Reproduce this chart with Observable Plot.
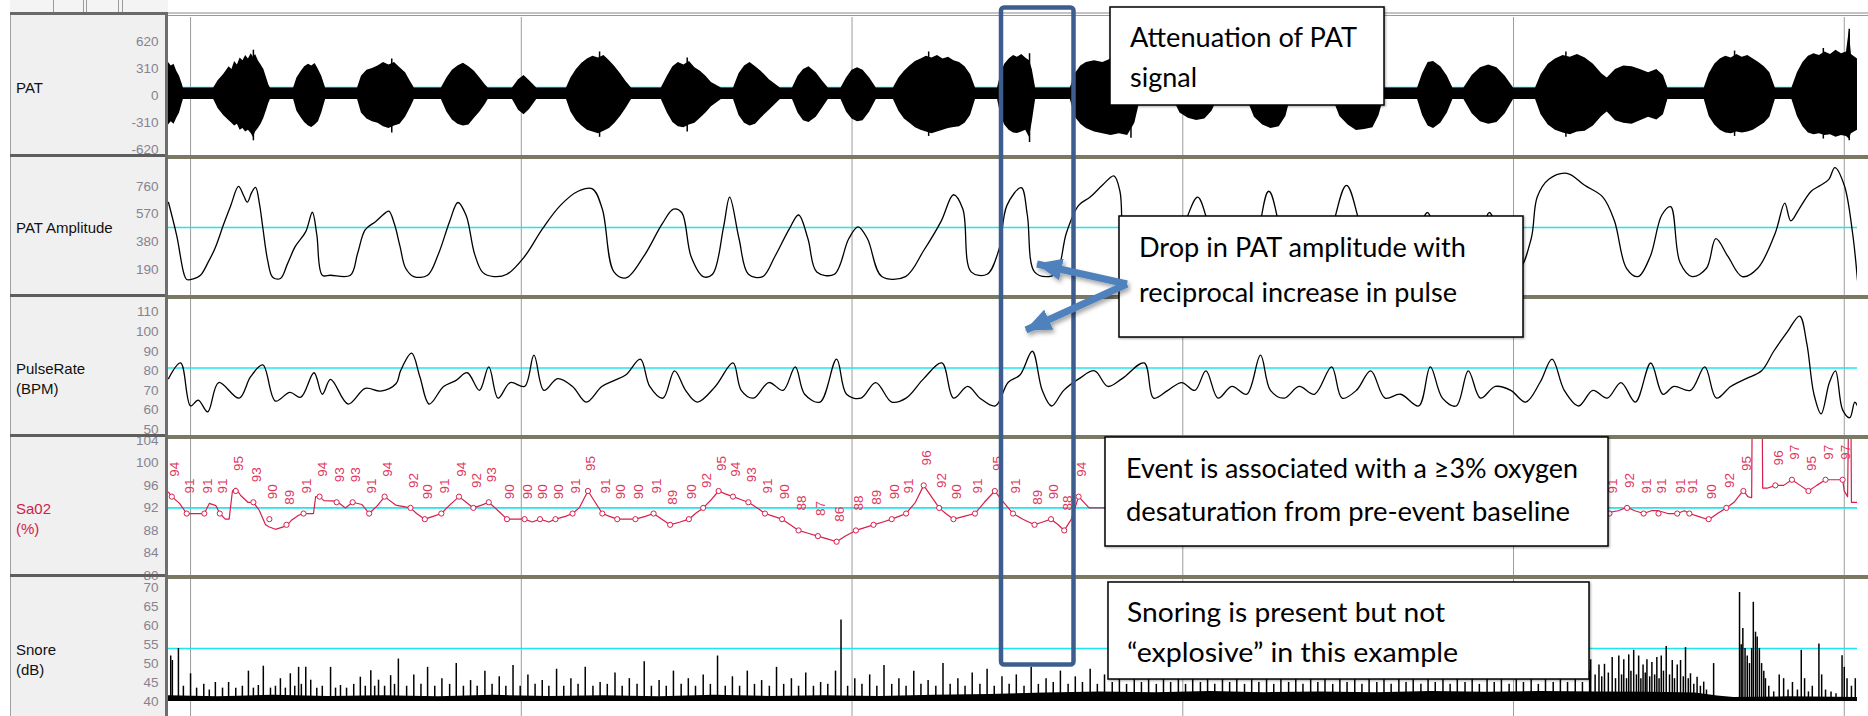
<!DOCTYPE html>
<html>
<head>
<meta charset="utf-8">
<script src="https://cdn.jsdelivr.net/npm/d3@7"></script>
<script src="https://cdn.jsdelivr.net/npm/@observablehq/plot@0.6"></script>
<style>
  html, body { margin: 0; padding: 0; background: #ffffff; }
  #root { position: relative; width: 1868px; height: 716px; overflow: hidden; background: #ffffff; }
  .blk { position: absolute; }
  .lbl { position: absolute; left: 16px; font-family: "Liberation Sans", Arial, sans-serif; font-size: 15px; color: #111; line-height: 18px; white-space: nowrap; }
</style>
</head>
<body>
<div id="root"></div>
<script>
// ---- time axis (seconds) ----
const xDomain = [-4, 302.4];
const gridT = [0, 60, 120, 180, 240, 300];

// ---- PAT signal envelope (upper / lower edge of the raw trace) ----
const patT = [-4, -3.5, -3, -2.5, -2, -1.5, -1.3, 4.2,
  5, 6, 7, 7.5, 8, 8.5, 9, 9.5, 10, 10.5, 11, 11.4, 11.8, 12.3, 12.8, 13.3, 13.8, 14.2, 14.5, 18.7,
  19.3, 20, 20.7, 21.4, 22, 22.6, 23.2, 23.8, 24.5, 30.3,
  31, 32, 33, 34, 35, 36, 37, 38, 39, 40, 40.6, 45.5,
  46.5, 47.5, 48.5, 49.5, 50.5, 51.5, 52.5, 53.5, 54, 58.4,
  59.5, 60.5, 61.5, 62.8, 68.2,
  69, 70, 71, 72, 73, 74, 75, 76, 77, 78, 79, 80, 85.4,
  86.5, 87.5, 88.5, 89.5, 90.5, 91.5, 92.5, 93.5, 94.5, 96.3, 98.5,
  99.5, 100.5, 101.5, 102.5, 103.5, 105, 107, 109.2,
  110.2, 111.2, 112.2, 113.5, 114.6, 115.7, 118,
  119, 120, 121, 122, 123.2, 124.4, 127.5,
  128.5, 129.5, 130.5, 131.5, 132.5, 133.5, 134.5, 135.5, 136.5, 137.5, 138.5, 139.5, 140.5, 141.5, 142.4, 146.4,
  147, 147.7, 148.5, 149.3, 150, 150.8, 151.5, 152.2, 152.7, 153.3, 159.6,
  160.5, 161.5, 162.5, 164, 165.5, 167, 168.5, 170, 171.3, 172.3, 178.3,
  179.5, 181, 182.5, 184, 185.3, 186.3, 191.7,
  193, 194.5, 196, 197.5, 198.7, 199.5, 207.3,
  208.5, 210, 211.5, 213, 214.5, 215.6, 216.4, 222.6,
  223.5, 224.5, 225.5, 226.8, 228, 229, 231,
  232.5, 234, 235.5, 237, 238.5, 240, 244,
  245, 246.3, 247.6, 249, 250.3, 251.6, 253, 254.5, 256, 257, 258.5, 260, 261.5, 263, 264.5, 266, 267.2, 268, 274.6,
  275.5, 276.5, 277.5, 278.5, 279.5, 280.5, 281.5, 282.5, 283.5, 284.5, 285.5, 286.5, 287.5, 290.5,
  291.5, 292.5, 293.5, 294.5, 295.5, 296.5, 297.5, 298.5, 299.5, 300.4, 300.9, 301.3, 302.4];
const patHi = [380, 340, 360, 280, 220, 130, 85, 85,
  170, 240, 330, 300, 390, 350, 430, 400, 460, 420, 480, 440, 470, 400, 350, 300, 200, 120, 85, 85,
  200, 270, 330, 360, 340, 367, 300, 220, 85, 85,
  220, 290, 310, 340, 380, 350, 380, 320, 260, 150, 85, 85,
  200, 290, 340, 370, 330, 280, 200, 120, 85, 85,
  180, 230, 170, 85, 85,
  200, 300, 370, 420, 450, 430, 460, 400, 330, 250, 160, 85, 85,
  220, 330, 380, 350, 390, 320, 280, 220, 150, 85, 85,
  250, 340, 380, 330, 280, 180, 85, 85,
  220, 300, 330, 260, 170, 85, 85,
  200, 290, 320, 290, 200, 85, 85,
  200, 280, 340, 390, 420, 450, 430, 460, 420, 440, 400, 380, 330, 240, 85, 85,
  250, 360, 420, 460, 440, 470, 430, 400, 300, 85, 85,
  250, 340, 380, 400, 380, 420, 400, 380, 300, 85, 85,
  220, 290, 320, 300, 200, 85, 85,
  260, 350, 380, 360, 250, 85, 85,
  250, 350, 400, 380, 360, 250, 85, 85,
  250, 379, 390, 330, 220, 85, 85,
  230, 320, 350, 320, 220, 85, 85,
  240, 360, 420, 460, 440, 470, 430, 360, 250, 200, 300, 340, 330, 300, 260, 300, 230, 85, 85,
  250, 360, 420, 450, 430, 470, 440, 460, 420, 380, 330, 260, 85, 85,
  260, 380, 450, 480, 460, 500, 470, 520, 480, 500, 740, 470, 420];
const patLo = [-340, -300, -330, -260, -200, -90, -45, -45,
  -150, -230, -290, -320, -350, -330, -400, -380, -420, -400, -436, -482, -420, -380, -330, -260, -170, -90, -45, -45,
  -180, -250, -310, -350, -367, -340, -300, -200, -45, -45,
  -200, -270, -300, -320, -360, -380, -350, -330, -250, -130, -45, -45,
  -190, -280, -330, -350, -340, -260, -190, -100, -45, -45,
  -170, -220, -160, -45, -45,
  -190, -290, -350, -400, -420, -440, -410, -380, -320, -240, -150, -45, -45,
  -200, -310, -360, -370, -340, -320, -260, -200, -130, -45, -45,
  -230, -320, -350, -330, -260, -170, -45, -45,
  -200, -290, -310, -250, -150, -45, -45,
  -190, -270, -300, -290, -190, -45, -45,
  -180, -270, -320, -370, -400, -420, -440, -420, -400, -380, -367, -360, -320, -230, -45, -45,
  -230, -340, -400, -430, -436, -420, -400, -482, -300, -45, -45,
  -250, -330, -380, -420, -440, -460, -440, -460, -320, -45, -45,
  -200, -260, -287, -270, -180, -45, -45,
  -250, -340, -379, -360, -240, -45, -45,
  -240, -340, -402, -390, -370, -230, -45, -45,
  -230, -350, -380, -320, -200, -45, -45,
  -210, -300, -330, -310, -210, -45, -45,
  -220, -340, -400, -430, -450, -420, -410, -350, -240, -190, -290, -320, -330, -290, -250, -280, -220, -45, -45,
  -240, -340, -400, -430, -440, -420, -430, -420, -400, -360, -320, -250, -45, -45,
  -240, -360, -430, -450, -440, -460, -450, -480, -460, -470, -500, -440, -400];
// isolated needles that stick out of the bursts
const patNeedleT = [11.4, 36.5, 74.2, 90.1, 133.9, 152.2, 170.6, 249.5, 280.1, 296.2, 300.9];
const patNeedleHi = [520, 420, 500, 430, 500, 480, 430, 500, 510, 540, 760];
const patNeedleLo = [-520, -430, -480, -420, -470, -540, -490, -480, -470, -500, -520];
const patTicks = [620, 310, 0, -310, -620];
const patRef = 92;

// ---- PAT amplitude ----
const ampT = [-4, -2.5, -1.2, -0.7, 0.5, 1.8, 3.2, 4.5, 6, 7.3, 8.7, 9.6, 10.3, 11.1, 11.8, 12.5, 13.1, 14, 14.9, 16.3, 17.6, 19, 20.9, 22.1, 22.9, 23.9, 25.4, 29, 30.3, 31.7, 33.6, 35.4, 36, 37, 38, 39, 40.5, 43, 45, 47, 48.5, 50, 51.5, 53, 55, 57.4, 60.6, 63.8, 67.1, 70.3, 72.9, 74.7, 76.8, 79.0, 82.2, 85.5, 87.6, 89.1, 90.8, 93.0, 94.7, 96.7, 97.8, 99.5, 101.2, 103.8, 106.0, 108.6, 110.3, 112.0, 113.6, 116.8, 119.4, 121.1, 122.8, 125.4, 129.7, 133.0, 136.2, 138.4, 140.1, 141.6, 144.5, 146.6, 148.1, 150.7, 151.8, 153.1, 155.7, 157.2, 158.9, 161.1, 163.2, 165.4, 167.5, 168.6, 169.7, 173, 177.3, 180.5, 182.7, 184.8, 188.1, 192.4, 195.6, 198.9, 203.2, 206.5, 209.7, 212.9, 216.2, 220.5, 224.4, 227, 230.2, 233.5, 235.6, 238.2, 241, 243.2, 244.3, 246.4, 249.7, 252.9, 256.2, 258.3, 260.5, 262.6, 264.8, 266.9, 268.5, 270.2, 272.4, 275, 276.7, 278.9, 281.5, 284.3, 287.5, 289.2, 290.3, 291.8, 294, 295.7, 297.2, 298.3, 300, 301.5, 302.4];
const ampV = [650, 420, 160, 121, 125, 150, 240, 341, 500, 630, 760, 700, 652, 720, 753, 640, 480, 250, 137, 128, 230, 348, 450, 583, 430, 150, 150, 150, 300, 463, 520, 580, 590, 500, 348, 200, 141, 150, 300, 520, 650, 560, 300, 170, 141, 157, 279, 467, 630, 727, 744, 605, 173, 132, 279, 499, 605, 581, 279, 141, 157, 483, 687, 401, 157, 141, 279, 467, 564, 401, 173, 157, 401, 483, 401, 141, 141, 320, 524, 703, 605, 173, 157, 320, 630, 752, 564, 173, 141, 173, 442, 630, 687, 768, 833, 727, 279, 141, 238, 524, 687, 483, 141, 279, 727, 320, 141, 401, 768, 401, 141, 198, 581, 198, 141, 279, 581, 320, 198, 401, 687, 809, 850, 768, 687, 524, 198, 141, 279, 564, 621, 238, 141, 198, 401, 279, 141, 198, 442, 646, 524, 605, 727, 768, 809, 890, 768, 442, 116];
const ampTicks = [760, 570, 380, 190];
const ampRef = 478;

// ---- pulse rate ----
const pulseT = [-4, -1.8, 0, 1.4, 3.1, 5.1, 8.8, 10.9, 13.1, 15.4, 18, 20, 22.4, 23.9, 25.4, 28.6, 31.7, 34.5, 37.3, 38.1, 40.1, 41.6, 43.3, 45.9, 48.1, 50.2, 52.4, 54.1, 55.8, 58, 60.6, 62.3, 64.1, 66.6, 69.3, 71.8, 74.6, 76.8, 79, 81.6, 83.3, 85.7, 87.8, 89.8, 91.9, 95.2, 98.4, 99.9, 102.1, 104.9, 107.5, 109.7, 111.4, 114.2, 117.2, 119, 121.6, 124.3, 127.2, 129.8, 133, 136.3, 138.4, 141, 143.2, 146, 148.3, 150.5, 152.7, 154.5, 156.2, 158.4, 161.2, 164, 166.4, 169, 173, 174.7, 177.3, 179.8, 182.2, 184.2, 186.4, 188.9, 191.6, 194.1, 195.9, 198.4, 201.1, 203.9, 207, 208.9, 211.5, 214.1, 216.7, 219.5, 222.8, 224.9, 227.1, 229.6, 231.8, 234, 236.7, 239.5, 242.2, 244.8, 247, 249.2, 251.8, 254.4, 257, 259.5, 262.1, 264.9, 267.1, 269.1, 272.1, 274.7, 276.8, 279.4, 282.2, 285, 287.2, 289.7, 291.9, 293.2, 294.5, 295.8, 297.3, 298.4, 299.7, 301, 301.9, 302.4];
const pulseV = [76, 84, 62, 65, 59, 74, 66, 77, 83, 64.5, 69, 66.5, 79, 68, 75.6, 63, 71, 69.6, 73.5, 80, 89, 77, 63, 72, 75, 79, 70, 82, 66, 74, 72, 88, 70, 76, 72, 64, 72, 75, 78, 86, 72, 66, 80, 70, 64, 72, 84, 70, 66, 74, 70, 82, 68, 64, 86, 68, 66, 74, 64, 66, 76, 84, 66, 72, 66, 62, 74, 78, 90, 70, 62, 70, 76, 80, 72, 76, 84, 66, 70, 74, 70, 80, 66, 72, 68, 88, 70, 66, 72, 68, 82, 66, 70, 80, 66, 68, 62, 82, 66, 62, 80, 66, 72, 70, 64, 74, 86, 70, 62, 70, 66, 74, 64, 84, 68, 72, 70, 82, 66, 72, 76, 80, 90, 100, 108, 94, 68, 58, 74, 80, 60, 56, 64, 62];
const pulseTicks = [110, 100, 90, 80, 70, 60, 50];
const pulseRef = 81.4;

// ---- oxygen saturation ----
const satT = [-4, -3.4, -2, -0.7, 2.5, 3.4, 4.6, 5.3, 6.3, 7.0, 7.6, 8.2, 9.1, 10.4, 11.4, 12.5, 13.6, 14.3, 15.4, 17.4, 18.3, 19.6, 20.5, 22.3, 22.7, 23.4, 24.2, 26.5, 28.1, 29.4, 31.1, 32.4, 33.9, 35.2, 37.2, 39.9, 41, 42.5, 44, 45.5, 47, 48.7, 50, 51.3, 52.8, 54.1, 55.8, 57.4, 59, 60.6, 62, 63.4, 65, 66.2, 68, 69.3, 70.5, 72.1, 73.4, 74.7, 76, 77.4, 79, 80.7, 82.5, 84, 85.5, 87, 88.8, 90.4, 91.6, 93, 94.5, 95.8, 97, 98.4, 99.8, 101.2, 102.8, 104.2, 105.8, 107.3, 108.8, 110.3, 112, 113.8, 115.5, 117.2, 118.8, 120.7, 122.3, 123.9, 125.6, 127.2, 128.5, 129.8, 131.5, 133, 134.4, 135.8, 137, 138.4, 140.3, 142.3, 144, 145.9, 147.5, 149.2, 151, 153.1, 154.6, 156.1, 157.4, 158.5, 159.8, 161.1, 163, 200, 240, 257.4, 259, 260.6, 262, 263.6, 265, 266.3, 268, 269.7, 271, 271.9, 273.5, 275.4, 277, 278.6, 280, 281.7, 282.5, 283.2, 283.3, 285.1, 285.2, 286, 287.5, 289, 290.5, 292, 293.5, 295, 296.6, 298, 299.7, 300, 300.6, 300.8, 301.2, 301.3, 302.4];
const satV = [94.8, 94, 92.8, 91, 91, 92.8, 92.4, 91, 90, 90, 95, 95.5, 94.2, 93, 93, 91.5, 89, 88.6, 88.2, 88.8, 89.8, 90.7, 91, 91, 94, 94, 93.3, 93.2, 92, 93, 92.6, 91, 92.4, 94, 92.5, 92, 91, 90, 90.5, 91, 92.5, 94, 93, 92, 92.5, 93, 91.5, 90, 90, 90, 89.5, 90, 89.5, 90, 90.5, 91, 92, 95, 93, 91, 90.5, 90, 90, 90, 90.5, 91, 90, 89, 89.5, 90, 91, 92, 93.5, 95, 94.5, 94, 93.5, 93, 92, 91, 90.5, 90, 89, 88, 87.5, 87, 86.5, 86, 87, 88, 88.5, 89, 89.5, 90, 90.5, 91, 93, 96, 94, 92, 91, 90, 90.5, 91, 93, 95, 93, 91, 90, 89, 89.5, 90, 89, 88, 90, 94, 92, 92, 92, 91.2, 91.5, 92.1, 91.5, 91, 91.5, 91.5, 91, 91, 91.5, 91, 90.5, 89.9, 91, 92, 93, 95.1, 94, 93.8, 110, 110, 95.5, 95.5, 96, 96, 97, 96, 95, 96, 97, 97, 97, 95, 94, 110, 110, 93, 93];
const satMarkT = [-3.4, -0.7, 2.5, 5.3, 8.2, 11.4, 14.3, 17.4, 20.5, 23.4, 26.5, 29.4, 32.4, 35.2, 39.9, 42.5, 45.5, 48.7, 51.3, 54.1, 57.4, 60.6, 63.4, 66.2, 69.3, 72.1, 74.7, 77.4, 80.7, 84, 87, 90.4, 93, 95.8, 98.4, 101.2, 104.2, 107.3, 110.3, 113.8, 117.2, 120.7, 123.9, 127.2, 129.8, 133, 135.8, 138.4, 142.3, 145.9, 149.2, 153.1, 156.1, 158.5, 161.1, 257.4, 260.6, 263.6, 266.3, 269.7, 271.9, 275.4, 278.6, 281.7, 287.5, 290.5, 293.5, 296.6, 299.7];
const satMarkV = [94, 91, 91, 91, 95, 93, 90, 89, 91, 94, 93, 93, 91, 94, 92, 90, 91, 94, 92, 93, 90, 90, 90, 90, 91, 95, 91, 90, 90, 91, 89, 90, 92, 95, 94, 93, 91, 90, 88, 87, 86, 88, 89, 90, 91, 96, 92, 90, 91, 95, 91, 89, 90, 88, 94, 91, 92, 91, 91, 91, 91, 90, 92, 95, 96, 97, 95, 97, 97];
const satTicks = [104, 100, 96, 92, 88, 84, 80];
const satRef = 92;

// ---- snore level: individual bursts above the floor ----
const snoreT = [-3.6, -3.3, -2.2, -1.3, 0, 1.1, 2.4, 3.4, 4.5, 5.8, 6.9, 8.2, 9.4, 10.5, 11.4, 12.3, 13.2, 14.5, 15.4, 16.3, 17.2, 18.1, 18.9, 19.6, 20.1, 20.9, 21.8, 22.9, 23.9, 25.4, 26.3, 27.2, 28.3, 29.6, 30.8, 31.7, 32.7, 33.4, 34.1, 35.2, 36.3, 37, 37.7,
  39.2, 40.5, 41.8, 43, 44.3, 45.6, 47, 48.2, 49.5, 50.8, 52, 53.4, 54.7, 56, 57.2, 58.5, 59.8, 61.2, 62.5, 63.8, 65, 66.4, 67.7, 69, 70.3, 71.6, 73, 74.3, 75.6, 77, 78.3, 79.6, 81, 82.3, 83.6, 85, 86.3, 87.6, 89, 90.3, 91.6, 93, 94.3, 95.6, 97, 98.3, 99.6, 101, 102.3, 103.6, 105, 106.3, 107.6, 109, 110.3, 111.6, 113, 114.3, 115.6, 117, 118, 119.2, 120.5, 121.8, 123.2, 124.5, 125.8, 127.2, 128.5, 129.8, 131.2, 132.5, 133.8, 135.2, 136.5, 137.8, 139.2, 140.5, 141.8, 143.2, 144.5, 145.8, 147.2, 148.5, 149.8, 151.2, 152.5, 153.8, 155.2, 156.5, 157.8, 159.2, 160.5, 161.8, 163.2, 164.5, 165.8, 167.2, 168.5, 169.8, 171.2, 172.5, 173.8, 175.2, 176.5, 177.8, 179.2, 180.5, 181.8, 183.2, 184.5, 185.8, 187.2, 188.5, 189.8, 191.2, 192.5, 193.8, 195.2, 196.5, 197.8, 199.2, 200.5, 201.8, 203.2, 204.5, 205.8, 207.2, 208.5, 209.8, 211.2, 212.5, 213.8, 215.2, 216.5, 217.8, 219.2, 220.5, 221.8, 223.2, 224.5, 225.8, 227.2, 228.5, 229.8, 231.2, 232.5, 233.8, 235.2, 236.5, 237.8, 239.2, 240.5, 241.8, 243.2, 244.5, 245.8, 247.2, 248.5, 249.8, 251.2, 252.5, 253.8,
  254, 254.8, 255.5, 256, 256.5, 257.2, 257.9, 258.5, 259.1, 259.6, 260, 260.5, 260.9, 261.3, 261.8, 262.3, 262.7, 263.1, 263.5, 263.9, 264.2, 264.7, 265.1, 265.6, 266, 266.4, 266.8, 267.2, 267.7, 268.3, 268.8, 269.2, 269.7, 270.3, 270.8, 271.2, 271.7, 272.1, 272.7, 273.3, 273.9, 274.5, 275, 276.3,
  281, 281.3, 281.6, 282, 282.4, 282.8, 283.2, 283.5, 283.9, 284.2, 284.6, 285, 285.4, 285.7, 286.3, 287.2, 288.2, 289, 289.8, 290.6, 291.5, 292.2, 292.8, 293.5, 294.2, 295.4, 295.9, 296.6, 297.6, 298.5, 299.6, 300, 300.5, 301.3, 302];
const snoreV = [52, 50.8, 54, 44, 47.3, 43.5, 44.5, 43, 45, 43.5, 45, 43.5, 44, 48, 43.5, 44.2, 49.3, 43.5, 44, 46, 43.5, 47.3, 44, 49, 44.5, 49, 45.6, 43.5, 44, 49, 43.5, 44.2, 43.5, 44.5, 46.4, 44, 48.1, 44, 45.6, 44, 46.8, 44.5, 51.2,
  44, 47, 44.5, 49, 44, 46, 44.5, 50, 44, 45.5, 44, 48, 44.5, 46.5, 44, 49.5, 44, 47, 44.5, 45.5, 44, 48.5, 44, 46, 44.5, 49, 44, 45, 44.5, 47.5, 44, 46, 44.5, 50.5, 44, 45.5, 44, 48, 44.5, 46, 44, 47, 44.5, 52, 44, 46.5, 44, 48, 44.5, 45.5, 44, 49, 44.5, 46, 44, 47.5, 44, 45, 44.5, 48, 61.5, 44, 46, 44.5, 47, 44, 49.5, 44.5, 46, 44, 48, 44.5, 45.5, 44, 50, 44.5, 46, 44, 47.5, 44.5, 48.5, 44, 46.5, 44.5, 47, 44, 49, 44.5, 46, 45, 48, 44.5, 46.5, 45, 48.5, 44.5, 47, 45, 49, 44.5, 46.5, 45, 48, 44.5, 46, 45, 47.5, 44.5, 46.5, 45, 48, 44.5, 46, 45, 47, 44.5, 46.5, 45, 48, 44.5, 46, 45, 47.5, 44.5, 46, 45, 47, 44.5, 46.5, 45, 48, 44.5, 46, 45, 47, 44.5, 46.5, 45, 47.5, 44.5, 46, 45, 47, 44.5, 46, 45, 47.5, 44.5, 46, 45, 47, 44.5, 46.5, 45, 47, 44.5, 46, 45, 47.5, 45, 46.5, 45, 48,
  51, 47, 49.6, 46.5, 49.8, 47.5, 51.6, 46, 52, 47, 51, 46, 52.3, 48, 53.5, 47, 52, 46, 49.6, 47.5, 51, 46.5, 50.3, 47, 51.6, 46, 52, 48, 54.5, 47, 50.8, 46, 49.6, 50.8, 46.5, 54.2, 46, 47.3, 44.5, 46.4, 44, 45.1, 43, 50,
  68.8, 55, 59.3, 54, 52, 50, 54, 66.2, 58.3, 57, 54, 50, 48, 46, 44, 42.5, 47, 46, 43, 45, 43, 53.5, 46, 42.5, 44, 55.2, 47, 43, 42.5, 42, 52.1, 49, 46, 44, 46];
// low-level floor of the snore trace
const snoreBaseT = [-4, 5, 15, 25, 35, 45, 55, 65, 75, 85, 95, 105, 115, 125, 135, 145, 155, 165, 175, 185, 195, 205, 215, 225, 235, 245, 255, 265, 273, 277, 280, 290, 302.4];
const snoreBaseV = [41.5, 41.2, 41.6, 41.3, 41.5, 41.2, 41.6, 41.3, 41.5, 41.2, 41.6, 41.3, 41.5, 41.3, 41.6, 41.8, 42.2, 42.5, 42.3, 42.6, 42.3, 42.5, 42.3, 42.6, 42.4, 42.6, 42.5, 42.4, 42.2, 41.4, 41, 41.2, 41];
const snoreTicks = [70, 65, 60, 55, 50, 45, 40];
const snoreRef = 54;

// ---- page furniture ----
const root = document.getElementById("root");
function box(x, y, w, h, bg, z) {
  const d = document.createElement("div");
  d.className = "blk";
  Object.assign(d.style, {left: x + "px", top: y + "px", width: w + "px", height: h + "px", background: bg, zIndex: z || 0});
  root.append(d);
  return d;
}

// left label column
box(10, 14, 155, 702, "#f0f0f0", 0);
box(10, 14, 1, 702, "#a0a0a0", 3);
// toolbar strip
box(10, 0, 158, 13, "#f4f4f4", 0);
[53, 83, 86, 118, 122].forEach(x => box(x, 0, 1, 12, "#9a9a9a", 1));

const tickColor = "#85838f";
const tickFont = "\"Liberation Sans\", Arial, sans-serif";

function panel(top, yDomain, ticks, ref, marks) {
  const chart = Plot.plot({
    width: 1868,
    height: 138,
    marginLeft: 168,
    marginRight: 11,
    marginTop: 0,
    marginBottom: 0,
    style: {background: "transparent", overflow: "visible", fontFamily: tickFont},
    x: {domain: xDomain, axis: null},
    y: {domain: yDomain, axis: null},
    marks: [
      Plot.ruleX(gridT, {stroke: "#9c9c9c", strokeWidth: 1}),
      Plot.ruleY([ref], {stroke: "#1ce6f0", strokeWidth: 1.6}),
      ...marks,
      Plot.axisY(ticks, {tickSize: 0, tickPadding: 10, fill: tickColor, fontSize: 13.5, label: null, tickFormat: d => String(d)})
    ]
  });
  chart.style.position = "absolute";
  chart.style.left = "0px";
  chart.style.top = top + "px";
  chart.style.zIndex = 2;
  root.append(chart);
}

const idx = a => a.map((_, i) => i);

// PAT
panel(17, [-689, 896], patTicks, patRef, [
  Plot.areaY(idx(patT), {x: i => patT[i], y1: i => patLo[i], y2: i => patHi[i], fill: "#000", curve: "linear", clip: true}),
  Plot.ruleX(idx(patNeedleT), {x: i => patNeedleT[i], y1: i => patNeedleLo[i], y2: i => patNeedleHi[i], stroke: "#000", strokeWidth: 1.5, clip: true})
]);

// PAT amplitude
panel(157, [11, 959], ampTicks, ampRef, [
  Plot.line(idx(ampT), {x: i => ampT[i], y: i => ampV[i], stroke: "#000", strokeWidth: 1.3, curve: "catmull-rom", clip: true})
]);

// Pulse rate
panel(297, [46.9, 117.5], pulseTicks, pulseRef, [
  Plot.line(idx(pulseT), {x: i => pulseT[i], y: i => pulseV[i], stroke: "#000", strokeWidth: 1.3, curve: "catmull-rom", clip: true})
]);

// SaO2
const satRed = "#d81e4c";
panel(437, [80, 104.5], satTicks, satRef, [
  Plot.line(idx(satT), {x: i => satT[i], y: i => satV[i], stroke: satRed, strokeWidth: 1.2, clip: true}),
  Plot.dot(idx(satMarkT), {x: i => satMarkT[i], y: i => satMarkV[i], r: 2.6, stroke: satRed, fill: "#fff", strokeWidth: 1}),
  Plot.text(idx(satMarkT), {x: i => satMarkT[i], y: i => satMarkV[i], text: i => String(satMarkV[i]), rotate: -90, textAnchor: "start", dx: 3, dy: -20, fill: "#e0365c", fontSize: 13.5, fontFamily: tickFont})
]);

// Snore
panel(578, [36, 72.5], snoreTicks, snoreRef, [
  Plot.areaY(idx(snoreBaseT), {x: i => snoreBaseT[i], y1: 40, y2: i => snoreBaseV[i], fill: "#000"}),
  Plot.ruleX(idx(snoreT), {x: i => snoreT[i], y1: 40, y2: i => snoreV[i], stroke: "#000", strokeWidth: 1.5})
]);

// separators and frame lines over the panels
box(165, 14, 3, 702, "#6e6e6e", 5);
box(10, 12, 158, 3, "#6a6a6a", 5);
box(168, 12, 1700, 2, "#c4c4c4", 5);
box(168, 15, 1700, 1, "#9a9a9a", 5);
[154, 294, 434, 574].forEach(y => {
  box(10, y, 155, 3, "#5e5e5e", 5);
  box(168, y + 1, 1700, 4, "#7b7863", 5);
});

// channel names, one element per line
function label(y, lines, color) {
  lines.forEach((t, k) => {
    const d = document.createElement("div");
    d.className = "lbl";
    d.style.top = (y + k * 20) + "px";
    d.style.zIndex = 6;
    if (color) d.style.color = color;
    d.textContent = t;
    root.append(d);
  });
}
label(79, ["PAT"]);
label(219, ["PAT Amplitude"]);
label(360, ["PulseRate", "(BPM)"]);
label(500, ["Sa02", "(%)"], "#d0204a");
label(641, ["Snore", "(dB)"]);

// ---- annotation layer ----
const svg = d3.select(root).append("svg")
  .attr("width", 1868).attr("height", 716)
  .style("position", "absolute").style("left", 0).style("top", 0).style("z-index", 10);

const defs = svg.append("defs");
const sh = defs.append("filter").attr("id", "sh").attr("x", "-20%").attr("y", "-20%").attr("width", "150%").attr("height", "150%");
sh.append("feDropShadow").attr("dx", 2).attr("dy", 3).attr("stdDeviation", 2).attr("flood-color", "#000").attr("flood-opacity", 0.35);
defs.append("marker").attr("id", "head").attr("markerUnits", "userSpaceOnUse")
  .attr("viewBox", "0 0 26 22").attr("refX", 25).attr("refY", 11)
  .attr("markerWidth", 26).attr("markerHeight", 22).attr("orient", "auto")
  .append("path").attr("d", "M0,0 L26,11 L0,22 Z").attr("fill", "#4f81bd");

// highlighted event window
svg.append("rect").attr("x", 1001).attr("y", 7.5).attr("width", 72.5).attr("height", 657)
  .attr("rx", 3).attr("fill", "none").attr("stroke", "#3d5d8f").attr("stroke-width", 4.5);

const notes = [
  {x: 1110, y: 7, w: 274, h: 98, tx: 1130, lines: [["Attenuation of PAT", 47, 227], ["signal", 87, 67]]},
  {x: 1119, y: 216, w: 404, h: 121, tx: 1139, lines: [["Drop in PAT amplitude with", 257, 327], ["reciprocal increase in pulse", 302, 318]]},
  {x: 1105, y: 437, w: 503, h: 109, tx: 1126, lines: [["Event is associated with a \u22653% oxygen", 478, 452], ["desaturation from pre-event baseline", 521, 444]]},
  {x: 1108, y: 582, w: 481, h: 97, tx: 1127, lines: [["Snoring is present but not", 622, 318], ["\u201cexplosive\u201d in this example", 662, 331]]}
];
notes.forEach(n => {
  svg.append("rect").attr("x", n.x).attr("y", n.y).attr("width", n.w).attr("height", n.h)
    .attr("fill", "#fff").attr("stroke", "#000").attr("stroke-width", 1.5)
    .style("filter", "drop-shadow(1px 1px 1px rgba(0,0,0,0.35))");
  n.lines.forEach(([t, by, len]) => {
    svg.append("text").attr("x", n.tx).attr("y", by).text(t)
      .attr("font-family", "Lato, 'Open Sans', sans-serif").attr("font-size", 27).attr("fill", "#000")
      .attr("textLength", len).attr("lengthAdjust", "spacingAndGlyphs");
  });
});

// arrows from the second note
const arrows = svg.append("g").attr("filter", "url(#sh)");
[[1037, 264], [1026, 330]].forEach(([x2, y2]) => {
  arrows.append("line").attr("x1", 1127).attr("y1", 284).attr("x2", x2).attr("y2", y2)
    .attr("stroke", "#4f81bd").attr("stroke-width", 7).attr("marker-end", "url(#head)");
});
</script>
</body>
</html>
